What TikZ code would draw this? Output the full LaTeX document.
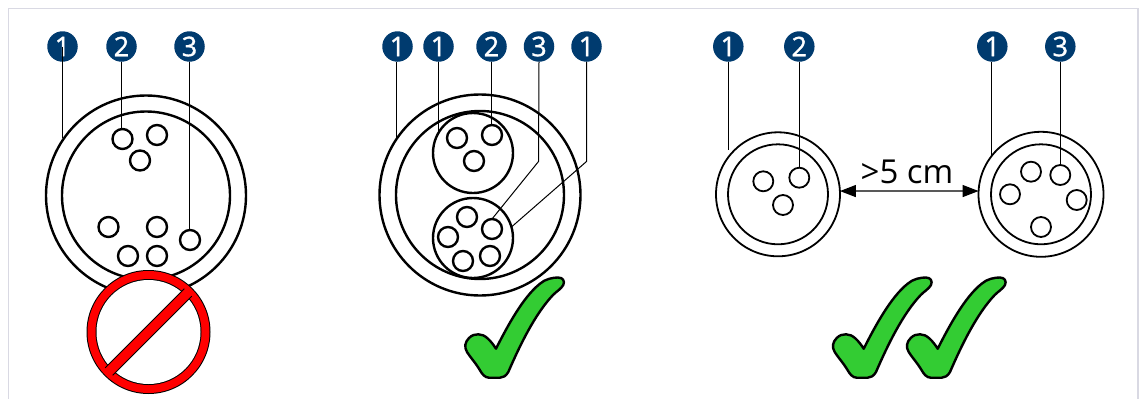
\documentclass[tikz,border=0pt]{standalone}
\usepackage{fontspec}
\setmainfont{Open Sans}
\newfontfamily\badgefont[FakeBold=1.2]{Open Sans}
\usetikzlibrary{arrows.meta}
\definecolor{badgeblue}{HTML}{003B6F}
\definecolor{framegrey}{HTML}{D9D9E3}
\definecolor{checkgreen}{HTML}{33CC33}
\tikzset{
  ring/.style={circle,draw=black,line width=2.4pt,inner sep=0pt,outer sep=0pt,minimum size=#1*2pt},
  thinring/.style={circle,draw=black,line width=1.8pt,inner sep=0pt,outer sep=0pt,minimum size=#1*2pt},
  wire/.style={ring=10},
  thinwire/.style={thinring=10},
  badge/.style={circle,fill=badgeblue,text=white,inner sep=0pt,outer sep=0pt,minimum size=30.5pt,font=\fontsize{27}{27}\badgefont},
  leader/.style={draw=black,line width=1pt},
  checkmark/.pic={
    \draw[black,line width=2.4pt,fill=checkgreen,line join=round]
      (13.3,57.3) .. controls (20,57) and (26,64) .. (31,71.7)
      .. controls (42,50) and (58,20) .. (75,6.7)
      .. controls (80,2) and (88,0.5) .. (93,0.5)
      .. controls (98,0.5) and (100,4) .. (98.3,8)
      .. controls (96,12) and (92,14) .. (88,18)
      .. controls (70,37) and (55,68) .. (43.3,95)
      .. controls (41,99) and (38,100.7) .. (35,100.7)
      -- (24,100.7) .. controls (20,100.7) and (17,97) .. (15,93.3)
      .. controls (10,85) and (5,80) .. (2,75)
      .. controls (-1,70) and (0,65) .. (4,61)
      .. controls (7,58) and (10,57.3) .. (13.3,57.3) -- cycle;
  }
}
\begin{document}
\begin{tikzpicture}[x=1pt,y=-1pt]
\useasboundingbox (0,0) rectangle (1141,399);
\fill[white] (0,0) rectangle (1141,399);
\draw[framegrey,line width=1.2pt] (8.5,399) -- (8.5,8.5) -- (1138,8.5) -- (1138,399);

% Panel 1
\node[ring=100] (o1) at (146,195.5) {};
\node[ring=84] (i1) at (146,195.5) {};
\node[wire] (a1) at (122.5,139) {};
\node[wire] (a2) at (157,135) {};
\node[wire] (a3) at (140,160.5) {};
\node[wire] (a4) at (108.5,227) {};
\node[wire] (a5) at (157,227) {};
\node[wire] (a6) at (128,256) {};
\node[wire] (a7) at (157,256) {};
\node[wire] (a8) at (190,240) {};
\node[badge] (b11) at (62.5,46.5) {1};
\node[badge] (b12) at (121.5,46.5) {2};
\node[badge] (b13) at (189.5,46.5) {3};
\draw[leader] (b11.center) -- (b11.center |- o1.145);
\draw[leader] (b12.south) -- (b12.south |- a1.north);
\draw[leader] (b13.south) -- (b13.south |- a8.north);

% Prohibition sign
\node[circle,fill=black,inner sep=0pt,minimum size=124pt] (no) at (148.5,332) {};
\node[circle,fill=red,inner sep=0pt,minimum size=122pt] (nored) at (no.center) {};
\node[circle,fill=black,inner sep=0pt,minimum size=106pt] (noin) at (no.center) {};
\node[circle,fill=white,inner sep=0pt,minimum size=104pt] (nowhite) at (no.center) {};
\draw[black,line width=11.4pt] ([shift={(-39.6,39.6)}]no.center) -- ([shift={(39.6,-39.6)}]no.center);
\draw[red,line width=9.4pt] ([shift={(-41,41)}]no.center) -- ([shift={(41,-41)}]no.center);

% Panel 2
\node[ring=100.5] (o2) at (480,195) {};
\node[ring=84] (i2) at (480,195) {};
\node[ring=40] (t2) at (473,153) {};
\node[ring=40] (u2) at (473,238) {};
\node[wire] (p1) at (457,138) {};
\node[wire] (p2) at (492,135) {};
\node[wire] (p3) at (474,161) {};
\node[wire] (q1) at (467,217) {};
\node[wire] (q2) at (492,229) {};
\node[wire] (q3) at (448,237) {};
\node[wire] (q4) at (463,261) {};
\node[wire] (q5) at (490,256) {};
\node[badge] (b21) at (397.5,46.5) {1};
\node[badge] (b22) at (438.5,46.5) {1};
\node[badge] (b23) at (491.5,46.5) {2};
\node[badge] (b24) at (539,46.5) {3};
\node[badge] (b25) at (586.5,46.5) {1};
\coordinate (k1) at (538.5,161.5);
\coordinate (k2) at (586.5,161.5);
\coordinate (e21) at (396,139);
\draw[leader] (b21.south -| e21) -- (e21);
\draw[leader] (b22.south) -- (b22.south |- t2.150);
\draw[leader] (b23.south) -- (b23.south |- p2.north);
\draw[leader] (b24.south) -- (k1) -- (q2.north);
\draw[leader] (b25.south) -- (k2) -- (u2.16);
\pic at (465,277) {checkmark};

% Panel 3
\node[thinring=62] (o3) at (778,194.3) {};
\node[thinring=50] (i3) at (778,194.3) {};
\node[thinwire] (r1) at (763.3,181.3) {};
\node[thinwire] (r2) at (799.3,177.7) {};
\node[thinwire] (r3) at (783,205) {};
\node[thinring=62.5] (o4) at (1041,194.3) {};
\node[thinring=50] (i4) at (1041,194.3) {};
\node[thinwire] (s1) at (1031,171.7) {};
\node[thinwire] (s2) at (1060.3,175) {};
\node[thinwire] (s3) at (1010,194.3) {};
\node[thinwire] (s4) at (1076.7,200) {};
\node[thinwire] (s5) at (1041,227) {};
\node[badge] (b31) at (728.3,46.5) {1};
\node[badge] (b32) at (799.3,46.5) {2};
\node[badge] (b33) at (992.3,46.5) {1};
\node[badge] (b34) at (1060.3,46.5) {3};
\coordinate (e33) at (991,156.7);
\draw[leader] (b31.south) -- (b31.south |- o3.135);
\draw[leader] (b32.south) -- (b32.south |- r2.north);
\draw[leader] (b33.south -| e33) -- (e33);
\draw[leader] (b34.south) -- (b34.south |- s2.north);
\draw[line width=1.2pt,{Triangle[length=16pt,width=12pt]}-{Triangle[length=16pt,width=12pt]}] (o3.3) -- (o4.177);
\node[anchor=base,inner sep=0pt,font=\fontsize{33}{33}\selectfont] (dist) at (907,183.5) {>5 cm};
\pic at (832.7,277) {checkmark};
\pic at (906.7,277) {checkmark};
\end{tikzpicture}
\end{document}
